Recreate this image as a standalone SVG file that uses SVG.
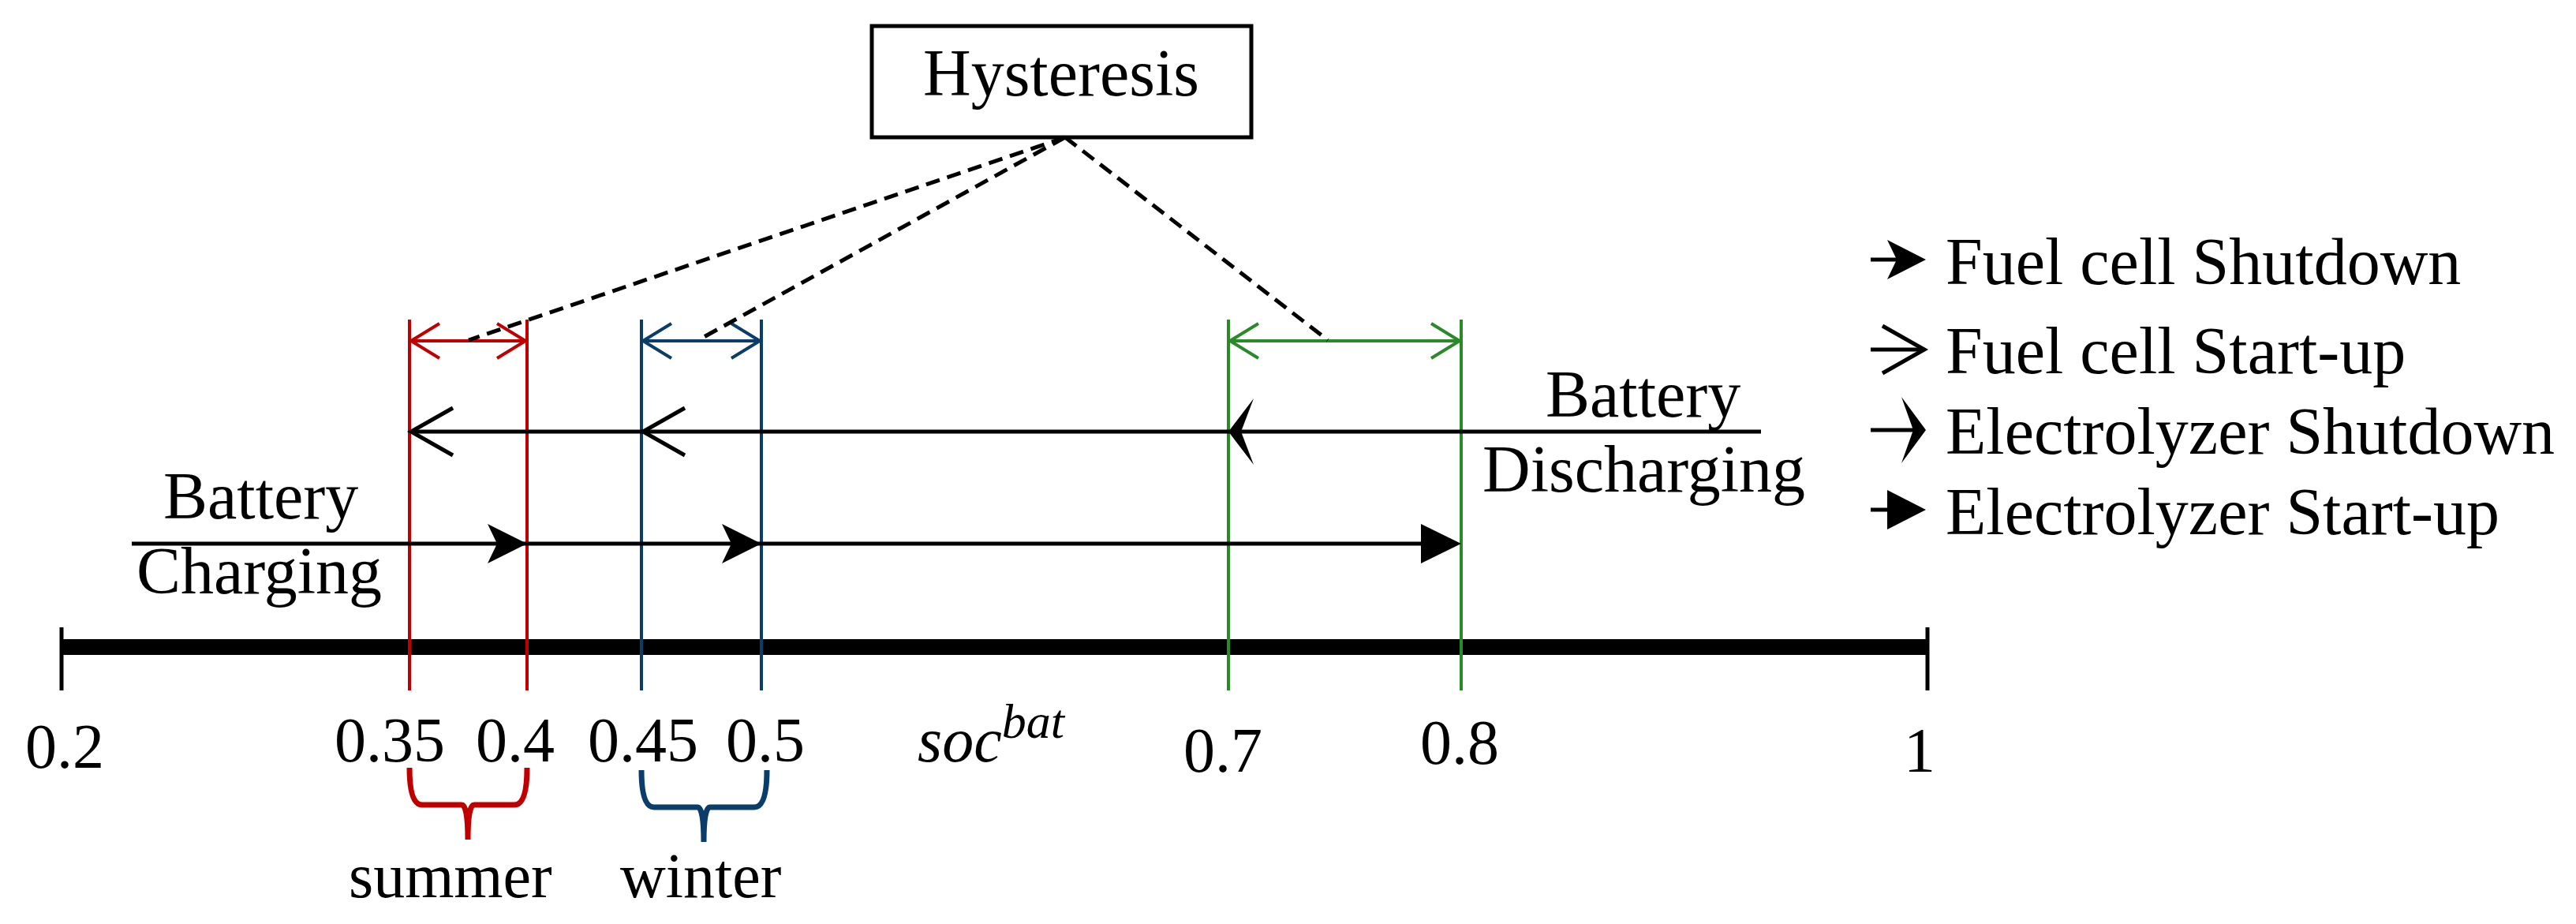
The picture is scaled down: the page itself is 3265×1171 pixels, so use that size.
<svg xmlns="http://www.w3.org/2000/svg" width="3265" height="1171" viewBox="0 0 3265 1171">
<style>
text{font-family:"Liberation Serif","Times New Roman",serif;fill:#000}
.t{font-size:84px}
.n{font-size:80px}
.ln{stroke:#000;stroke-width:5;fill:none}
.open{stroke:#000;stroke-width:5;fill:none}
.red{stroke:#c00000;stroke-width:4;fill:none}
.blue{stroke:#0b3d6b;stroke-width:4;fill:none}
.green{stroke:#2a8a2a;stroke-width:4;fill:none}
.dash{stroke:#000;stroke-width:5;fill:none;stroke-dasharray:18 10}
</style>
<rect width="3265" height="1171" fill="#fff"/>
<g id="hysteresis">
<rect x="1105" y="33" width="481" height="141" fill="#fff" stroke="#000" stroke-width="5"/>
<text class="t" x="1345" y="121" text-anchor="middle">Hysteresis</text>
</g>
<g id="axis">
<line x1="78" y1="820" x2="2443" y2="820" stroke="#000" stroke-width="20"/>
<line x1="78" y1="795" x2="78" y2="875" class="ln"/>
<line x1="2443" y1="795" x2="2443" y2="875" class="ln"/>
<text class="n" x="32" y="973">0.2</text>
<text class="n" x="424" y="965">0.35</text>
<text class="n" x="603" y="965">0.4</text>
<text class="n" x="745" y="965">0.45</text>
<text class="n" x="920" y="965">0.5</text>
<text class="n" x="1500" y="978">0.7</text>
<text class="n" x="1800" y="968">0.8</text>
<text class="n" x="2413" y="978">1</text>
<text x="1163" y="965" font-size="80" font-style="italic">soc<tspan font-size="62" dy="-30">bat</tspan></text>
</g>
<g id="summer-band">
<line x1="519" y1="405" x2="519" y2="875" class="red"/>
<line x1="668" y1="405" x2="668" y2="875" class="red"/>
<line x1="524" y1="432" x2="663" y2="432" class="red"/>
<polyline points="557,410 521,432 557,454" class="red"/>
<polyline points="630,410 666,432 630,454" class="red"/>
<path d="M519,973 Q519,1020 535,1020 L585,1020 Q593,1020 593,1064 Q593,1020 601,1020 L652,1020 Q668,1020 668,973" stroke="#c00000" stroke-width="7" fill="none"/>
<text class="n" x="442" y="1137">summer</text>
</g>
<g id="winter-band">
<line x1="813" y1="405" x2="813" y2="875" class="blue"/>
<line x1="965" y1="405" x2="965" y2="875" class="blue"/>
<line x1="818" y1="432" x2="960" y2="432" class="blue"/>
<polyline points="851,410 815,432 851,454" class="blue"/>
<polyline points="927,410 963,432 927,454" class="blue"/>
<path d="M813,976 Q813,1023 829,1023 L884,1023 Q892,1023 892,1067 Q892,1023 900,1023 L956,1023 Q972,1023 972,976" stroke="#0b3d6b" stroke-width="7" fill="none"/>
<text class="n" x="786" y="1137">winter</text>
</g>
<g id="electrolyzer-band">
<line x1="1557" y1="405" x2="1557" y2="875" class="green"/>
<line x1="1852" y1="405" x2="1852" y2="875" class="green"/>
<line x1="1562" y1="432" x2="1847" y2="432" class="green"/>
<polyline points="1595,410 1559,432 1595,454" class="green"/>
<polyline points="1814,410 1850,432 1814,454" class="green"/>
</g>
<g id="connectors">
<line x1="1350" y1="174" x2="594" y2="431" class="dash"/>
<line x1="1350" y1="174" x2="885" y2="431" class="dash"/>
<line x1="1350" y1="174" x2="1683" y2="431" class="dash"/>
<line x1="2232" y1="547" x2="522" y2="547" class="ln"/>
<polyline points="574,517 521,547 574,577" class="open"/>
<polyline points="868,517 815,547 868,577" class="open"/>
<polygon points="1557,547 1589,505 1573,547 1589,589"/>
<line x1="167" y1="689" x2="1830" y2="689" class="ln" stroke-width="6"/>
<polygon points="668,689 618,664 630,689 618,714"/>
<polygon points="965,689 915,664 927,689 915,714"/>
<polygon points="1852,689 1801,664 1801,714"/>
</g>
<g id="battery-charging">
<text class="t" x="207" y="657">Battery</text>
<text class="t" x="173" y="752">Charging</text>
</g>
<g id="battery-discharging">
<text class="t" x="1959" y="528">Battery</text>
<text class="t" x="1879" y="623">Discharging</text>
</g>
<g id="legend">
<line x1="2371" y1="329" x2="2430" y2="329" class="ln"/>
<polygon points="2441,329 2392,304 2404,329 2392,354"/>
<text class="t" x="2466" y="360">Fuel cell Shutdown</text>
<line x1="2371" y1="443" x2="2438" y2="443" class="ln"/>
<polyline points="2386,413 2439,443 2386,473" class="open"/>
<text class="t" x="2466" y="473">Fuel cell Start-up</text>
<line x1="2371" y1="545" x2="2430" y2="545" class="ln"/>
<polygon points="2441,545 2410,503 2425,545 2410,587"/>
<text class="t" x="2466" y="575">Electrolyzer Shutdown</text>
<line x1="2371" y1="646" x2="2400" y2="646" class="ln"/>
<polygon points="2441,646 2392,621 2392,671"/>
<text class="t" x="2466" y="677">Electrolyzer Start-up</text>
</g>
</svg>
